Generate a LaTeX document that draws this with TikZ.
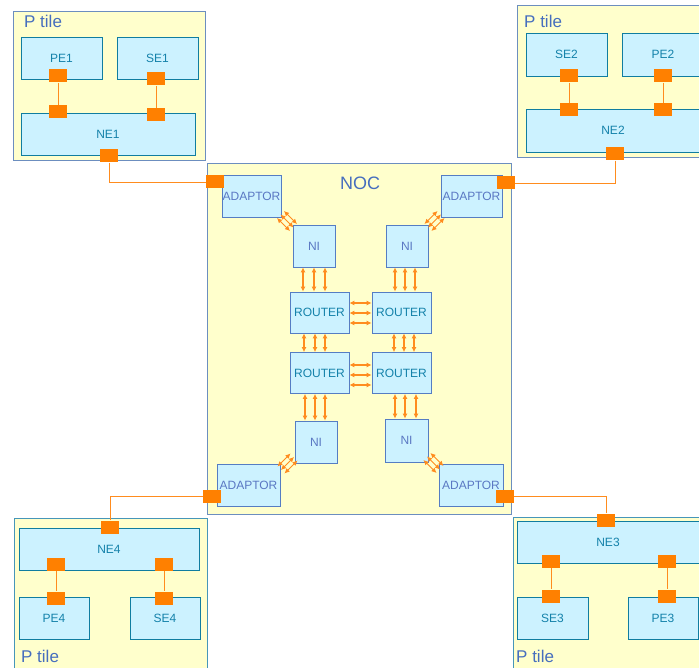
\documentclass[tikz,border=0pt]{standalone}
\usepackage{fontspec}
\setmainfont{Liberation Sans}
\usepackage{xcolor}
\usetikzlibrary{arrows.meta,calc}
\definecolor{tilefill}{RGB}{255,255,204}
\definecolor{tileedge}{RGB}{108,142,191}
\definecolor{tileedgeb}{RGB}{70,150,185}
\definecolor{elemfill}{RGB}{204,242,255}
\definecolor{elemedge}{RGB}{16,125,160}
\definecolor{elemtext}{RGB}{20,130,170}
\definecolor{nocedge}{RGB}{85,125,195}
\definecolor{noctext}{RGB}{90,120,195}
\definecolor{labelblue}{RGB}{70,110,190}
\definecolor{portorange}{RGB}{255,128,0}
\definecolor{linkorange}{RGB}{255,140,30}

\tikzset{
  tile/.style={fill=tilefill, draw=tileedge, line width=0.8pt},
  tilelabel/.style={anchor=west, inner sep=0pt, text=labelblue, font=\fontsize{17}{19}\selectfont},
  elem/.style={draw=elemedge, fill=elemfill, line width=0.8pt, inner sep=0pt,
    text=elemtext, font=\fontsize{12}{14}\selectfont},
  nocbox/.style={draw=nocedge, fill=elemfill, line width=0.8pt, inner sep=0pt,
    text=noctext, font=\fontsize{12}{14}\selectfont},
  router/.style={nocbox, text=elemtext, minimum width=59pt, minimum height=41pt},
  port/.style={fill=portorange, inner sep=0pt, minimum width=18pt, minimum height=13pt},
  link/.style={draw=linkorange, line width=0.8pt},
  biarrow/.style={draw=linkorange, line width=1.2pt,
    {Latex[length=5pt,width=5pt]}-{Latex[length=5pt,width=5pt]}}
}

\begin{document}
\begin{tikzpicture}[x=1pt,y=-1pt]
  \useasboundingbox (0,0) rectangle (699,668);
  \clip (0,0) rectangle (699,668);

  % P tiles and the NOC frame
  \draw[tile] (13,11) rectangle (205,160);
  \draw[tile] (517,5) rectangle (712,157);
  \draw[tile, draw=tileedgeb] (14,518) rectangle (207,680);
  \draw[tile, draw=tileedgeb] (513,517) rectangle (712,680);
  \draw[tile] (207,163) rectangle (511,514);
  \node[text=labelblue, font=\fontsize{18}{20}\selectfont] (noc) at (360,183) {NOC};

  \node[tilelabel] (lbl1) at (24,21) {P tile};
  \node[tilelabel] (lbl2) at (524,21) {P tile};
  \node[tilelabel] (lbl4) at (21,656) {P tile};
  \node[tilelabel] (lbl3) at (516,656) {P tile};

  % tile 1
  \node[elem, minimum width=81pt, minimum height=42pt] (pe1) at (61.5,58) {PE1};
  \node[elem, minimum width=81pt, minimum height=42pt] (se1) at (157.5,58) {SE1};
  \node[elem, minimum width=174pt, minimum height=42pt] (ne1) at (108,134) {NE1};

  % tile 2
  \node[elem, minimum width=81pt, minimum height=43pt] (se2) at (566.5,54.5) {SE2};
  \node[elem, minimum width=82pt, minimum height=43pt] (pe2) at (663,54.5) {PE2};
  \node[elem, minimum width=174pt, minimum height=43pt] (ne2) at (613,130.5) {NE2};

  % tile 4
  \node[elem, minimum width=180pt, minimum height=42pt] (ne4) at (109,549) {NE4};
  \node[elem, minimum width=70pt, minimum height=42pt] (pe4) at (54,618) {PE4};
  \node[elem, minimum width=70pt, minimum height=42pt] (se4) at (165,618) {SE4};

  % tile 3
  \node[elem, minimum width=182pt, minimum height=42pt] (ne3) at (608,542) {NE3};
  \node[elem, minimum width=71pt, minimum height=42pt] (se3) at (552.5,618) {SE3};
  \node[elem, minimum width=70pt, minimum height=42pt] (pe3) at (663,618) {PE3};

  % NOC: adaptors, NIs, routers
  \node[nocbox, minimum width=59pt, minimum height=42pt] (adA) at (251.5,196) {ADAPTOR};
  \node[nocbox, minimum width=61pt, minimum height=42pt] (adB) at (471.5,196) {ADAPTOR};
  \node[nocbox, minimum width=63pt, minimum height=42pt] (adC) at (248.5,485) {ADAPTOR};
  \node[nocbox, minimum width=64pt, minimum height=42pt] (adD) at (471,485) {ADAPTOR};

  \node[nocbox, minimum width=42pt, minimum height=42pt] (niA) at (314,246) {NI};
  \node[nocbox, minimum width=42pt, minimum height=42pt] (niB) at (407,246) {NI};
  \node[nocbox, minimum width=42pt, minimum height=42pt] (niC) at (316,442) {NI};
  \node[nocbox, minimum width=43pt, minimum height=43pt] (niD) at (406.5,440.5) {NI};

  \node[router] (rtA) at (319.5,312.5) {ROUTER};
  \node[router] (rtB) at (401.5,312.5) {ROUTER};
  \node[router] (rtC) at (319.5,373) {ROUTER};
  \node[router] (rtD) at (401.5,373) {ROUTER};

  % ports
  \node[port] (p1a) at (58,76) {};
  \node[port] (p1b) at (58,112) {};
  \node[port] (p1c) at (156,79) {};
  \node[port] (p1d) at (156,115) {};
  \node[port] (p1e) at (109,156) {};
  \node[port] (p2a) at (569,76) {};
  \node[port] (p2b) at (569,110) {};
  \node[port] (p2c) at (663,76) {};
  \node[port] (p2d) at (663,110) {};
  \node[port] (p2e) at (615,154) {};
  \node[port] (p4e) at (110,527) {};
  \node[port] (p4a) at (56,564) {};
  \node[port] (p4b) at (56,598) {};
  \node[port] (p4c) at (164,564) {};
  \node[port] (p4d) at (164,598) {};
  \node[port] (p3e) at (606,520) {};
  \node[port] (p3a) at (551,561) {};
  \node[port] (p3b) at (551,596) {};
  \node[port] (p3c) at (667,561) {};
  \node[port] (p3d) at (667,596) {};
  \node[port] (aA) at (215,182) {};
  \node[port] (aB) at (506,183) {};
  \node[port] (aC) at (212,496) {};
  \node[port] (aD) at (505,496) {};

  % links inside the tiles
  \draw[link] (p1a.south) -- (p1b.north);
  \draw[link] (p1c.south) -- (p1d.north);
  \draw[link] (p2a.south) -- (p2b.north);
  \draw[link] (p2c.south) -- (p2d.north);
  \draw[link] (p4a.south) -- (p4b.north);
  \draw[link] (p4c.south) -- (p4d.north);
  \draw[link] (p3a.south) -- (p3b.north);
  \draw[link] (p3c.south) -- (p3d.north);

  % links from the tiles to the adaptors
  \draw[link] (p1e.south) |- (aA.west);
  \draw[link] (p2e.south) |- (aB.east);
  \draw[link] (p4e.north) |- (aC.west);
  \draw[link] (p3e.north) |- (aD.east);

  % NI <-> router, router <-> router
  \foreach \x in {303,314,325} \draw[biarrow] (\x,0 |- niA.south) -- (\x,0 |- rtA.north);
  \foreach \x in {395,405,415} \draw[biarrow] (\x,0 |- niB.south) -- (\x,0 |- rtB.north);
  \foreach \x in {305,315,325} \draw[biarrow] (\x,0 |- rtC.south) -- (\x,0 |- niC.north);
  \foreach \x in {395,405,416} \draw[biarrow] (\x,0 |- rtD.south) -- (\x,0 |- niD.north);
  \foreach \x in {304,315,325} \draw[biarrow] (\x,0 |- rtA.south) -- (\x,0 |- rtC.north);
  \foreach \x in {394,404,414} \draw[biarrow] (\x,0 |- rtB.south) -- (\x,0 |- rtD.north);
  \foreach \y in {303,313,323} \draw[biarrow] (rtA.east |- 0,\y) -- (rtB.west |- 0,\y);
  \foreach \y in {365,375,385} \draw[biarrow] (rtC.east |- 0,\y) -- (rtD.west |- 0,\y);

  % adaptor <-> NI
  \coordinate (dgA) at ($(adA.south east)!0.5!(niA.north west)$);
  \coordinate (dgB) at ($(adB.south west)!0.5!(niB.north east)$);
  \coordinate (dgC) at ($(adC.north east)!0.5!(niC.south west)$);
  \coordinate (dgD) at ($(niD.south east)!0.5!(adD.north west)$);
  \foreach \o in {-3.5,0,3.5} {
    \draw[biarrow, line width=1pt] ($(dgA)+(-6.5+\o,-6.5-\o)$) -- ($(dgA)+(6.5+\o,6.5-\o)$);
    \draw[biarrow, line width=1pt] ($(dgB)+(6.5+\o,-6.5+\o)$) -- ($(dgB)+(-6.5+\o,6.5+\o)$);
    \draw[biarrow, line width=1pt] ($(dgC)+(-6.5+\o,6.5+\o)$) -- ($(dgC)+(6.5+\o,-6.5+\o)$);
    \draw[biarrow, line width=1pt] ($(dgD)+(-6.5+\o,-6.5-\o)$) -- ($(dgD)+(6.5+\o,6.5-\o)$);
  }
\end{tikzpicture}
\end{document}
